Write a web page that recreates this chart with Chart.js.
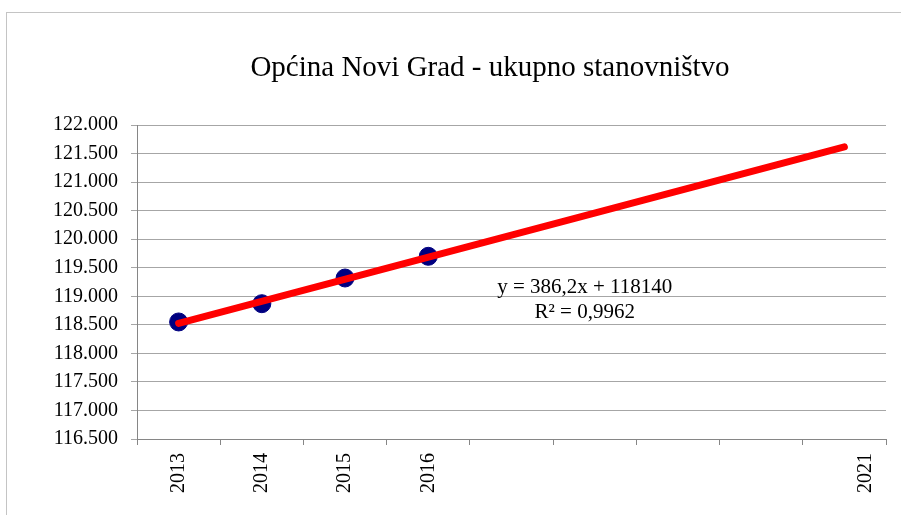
<!DOCTYPE html>
<html>
<head>
<meta charset="utf-8">
<script src="https://cdn.jsdelivr.net/npm/chart.js@4/dist/chart.umd.min.js"></script>
<style>
  html, body { margin: 0; padding: 0; background: #fff; }
  #wrap { position: relative; width: 901px; height: 515px; }
  #frame { position: absolute; left: 6px; top: 12px; right: -2px; bottom: -2px;
           border-left: 1px solid #c4c4c4; border-top: 1px solid #c4c4c4; pointer-events: none; }
</style>
</head>
<body>
<div id="wrap">
  <canvas id="chart" width="901" height="515"></canvas>
  <div id="frame"></div>
</div>
<script>
// podaci
const years = ["2013", "2014", "2015", "2016", "", "", "", "", "2021"];
const population = [118550, 118870, 119320, 119700, null, null, null, null, null];
// linearni trend (y = 386,2x + 118140), krajnje tačke
const trend = [118526, null, null, null, null, null, null, null, 121616];
const yTicks = { min: 116500, max: 122000, step: 500 };
const titleText = "Općina Novi Grad - ukupno stanovništvo";
const equationLines = ["y = 386,2x + 118140", "R² = 0,9962"];

const serif = "'Liberation Serif', 'Times New Roman', serif";

function fmt(v) {
    return String(v).replace(/\B(?=(\d{3})+(?!\d))/g, ".");
}

// naslov, oznake godina i jednadžba trenda
const textPlugin = {
    id: "texts",
    afterDraw(chart) {
        const ctx = chart.ctx;
        const xs = chart.scales.x, ys = chart.scales.y;
        ctx.save();
        ctx.fillStyle = "#000";

        // naslov
        ctx.font = "29px " + serif;
        ctx.textAlign = "center";
        ctx.textBaseline = "middle";
        ctx.fillText(titleText, 490, 68);

        // godine (rotirano), zadnja malo pomaknuta kao u Excelu
        ctx.font = "20px " + serif;
        years.forEach((lbl, i) => {
            if (!lbl) return;
            let x = xs.getPixelForValue(i);
            if (i === years.length - 1) x += 21;
            ctx.save();
            ctx.translate(x, xs.top + 14);
            ctx.rotate(-Math.PI / 2);
            ctx.textAlign = "right";
            ctx.textBaseline = "middle";
            ctx.fillText(lbl, 0, 0);
            ctx.restore();
        });

        // jednadžba
        ctx.font = "21px " + serif;
        ctx.textAlign = "center";
        ctx.textBaseline = "middle";
        const ex = xs.getPixelForValue(4.88);
        ctx.fillText(equationLines[0], ex, ys.getPixelForValue(119160));
        ctx.fillText(equationLines[1], ex, ys.getPixelForValue(118720));
        ctx.restore();
    }
};

new Chart(document.getElementById("chart"), {
    type: "line",
    data: {
        labels: years,
        datasets: [
            {
                label: "Trend",
                data: trend,
                order: 0,
                spanGaps: true,
                borderColor: "#ff0000",
                borderWidth: 7,
                borderCapStyle: "round",
                pointRadius: 0,
                fill: false
            },
            {
                label: "Stanovništvo",
                data: population,
                order: 1,
                showLine: false,
                pointRadius: 9,
                pointBackgroundColor: "#000080",
                pointBorderColor: "#000080",
                pointBorderWidth: 1
            }
        ]
    },
    options: {
        responsive: false,
        animation: false,
        layout: { padding: { top: 125, left: 0, right: 15, bottom: 0 } },
        plugins: {
            legend: { display: false },
            tooltip: { enabled: false },
            title: { display: false }
        },
        scales: {
            x: {
                offset: true,
                grid: { offset: true, drawOnChartArea: false, drawTicks: true, tickLength: 6, color: "#868686" },
                border: { color: "#868686" },
                ticks: { display: false },
                afterFit(scale) { scale.height = 76; }
            },
            y: {
                min: yTicks.min,
                max: yTicks.max,
                grid: { color: "#a6a6a6", tickLength: 6 },
                border: { color: "#868686" },
                ticks: {
                    stepSize: yTicks.step,
                    padding: 13,
                    color: "#000",
                    font: { family: serif, size: 20 },
                    callback: v => fmt(v)
                },
                afterFit(scale) { scale.width = 137; }
            }
        }
    },
    plugins: [textPlugin]
});
</script>
</body>
</html>
